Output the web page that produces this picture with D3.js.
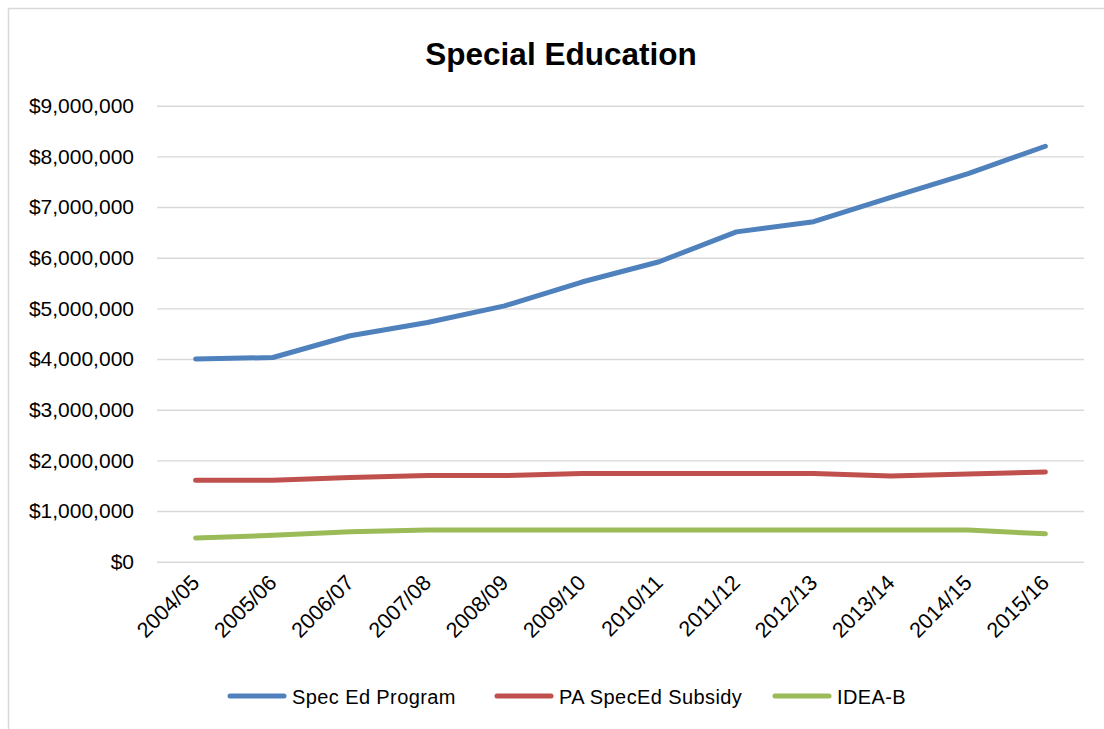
<!DOCTYPE html>
<html>
<head>
<meta charset="utf-8">
<script src="https://cdn.jsdelivr.net/npm/d3@7"></script>
<style>
  body { margin: 0; background: #fff; }
  svg { display: block; font-family: "Liberation Sans", Arial, sans-serif; }
</style>
</head>
<body>
<div id="chart"></div>
<script>
// data
const years = ["2004/05", "2005/06", "2006/07", "2007/08", "2008/09", "2009/10",
  "2010/11", "2011/12", "2012/13", "2013/14", "2014/15", "2015/16"];
const specEdProgram = [4000000, 4030000, 4460000, 4720000, 5050000, 5520000,
  5920000, 6510000, 6710000, 7190000, 7660000, 8200000];
const paSpecEdSubsidy = [1610000, 1610000, 1660000, 1700000, 1700000, 1740000,
  1740000, 1740000, 1740000, 1690000, 1730000, 1770000];
const ideaB = [470000, 520000, 590000, 625000, 625000, 625000,
  625000, 625000, 625000, 625000, 625000, 550000];
const yTicks = [0, 1000000, 2000000, 3000000, 4000000, 5000000, 6000000, 7000000, 8000000, 9000000];

const series = [
  { name: "Spec Ed Program", values: specEdProgram, color: "#4F81BD" },
  { name: "PA SpecEd Subsidy", values: paSpecEdSubsidy, color: "#C0504D" },
  { name: "IDEA-B", values: ideaB, color: "#9BBB59" }
];

const W = 1104, H = 729;
const plot = { left: 157, right: 1084, top: 105.7, bottom: 561.7 };

const svg = d3.select("#chart").append("svg")
  .attr("width", W)
  .attr("height", H);

// outer chart border (right/bottom edges fall off the page)
svg.append("rect")
  .attr("x", 8.5).attr("y", 8.5)
  .attr("width", 1110).attr("height", 740)
  .attr("fill", "#fff")
  .attr("stroke", "#D9D9D9")
  .attr("stroke-width", 1.5);

const x = d3.scalePoint().domain(years).range([plot.left, plot.right]).padding(0.5);
const y = d3.scaleLinear().domain([0, 9000000]).range([plot.bottom, plot.top]);

// title
svg.append("text")
  .attr("x", 561).attr("y", 65)
  .attr("text-anchor", "middle")
  .attr("font-size", 31.5)
  .attr("font-weight", "bold")
  .attr("fill", "#000")
  .text("Special Education");

// y axis + gridlines
const yAxis = svg.append("g")
  .attr("transform", "translate(" + plot.left + ",0)")
  .call(d3.axisLeft(y)
    .tickValues(yTicks)
    .tickSize(-(plot.right - plot.left))
    .tickPadding(23)
    .tickFormat(d => "$" + d3.format(",")(d)));
yAxis.select(".domain").remove();
yAxis.selectAll(".tick line")
  .attr("stroke", "#D9D9D9")
  .attr("stroke-width", 1.4);
yAxis.selectAll(".tick text")
  .attr("font-size", 21)
  .attr("fill", "#000")
  .attr("font-family", "Liberation Sans, Arial, sans-serif");

// x labels, rotated
const xAxis = svg.append("g");
xAxis.selectAll("text")
  .data(years)
  .join("text")
  .attr("transform", d => "translate(" + (x(d) + 5) + ",584) rotate(-45)")
  .attr("text-anchor", "end")
  .attr("font-size", 21.5)
  .attr("fill", "#000")
  .text(d => d);

// lines
const line = d3.line()
  .x((d, i) => x(years[i]))
  .y(d => y(d));

svg.append("g")
  .selectAll("path")
  .data(series)
  .join("path")
  .attr("d", d => line(d.values))
  .attr("fill", "none")
  .attr("stroke", d => d.color)
  .attr("stroke-width", 5)
  .attr("stroke-linecap", "round")
  .attr("stroke-linejoin", "round");

// legend
const legendX = [230, 497, 775];
const legend = svg.append("g")
  .selectAll("g")
  .data(series)
  .join("g")
  .attr("transform", (d, i) => "translate(" + legendX[i] + ",696)");
legend.append("line")
  .attr("x1", 0).attr("x2", 54)
  .attr("y1", 0).attr("y2", 0)
  .attr("stroke", d => d.color)
  .attr("stroke-width", 5)
  .attr("stroke-linecap", "round");
legend.append("text")
  .attr("x", 62).attr("y", 8)
  .attr("font-size", 20)
  .attr("letter-spacing", 0.4)
  .attr("fill", "#000")
  .text(d => d.name);
</script>
</body>
</html>
